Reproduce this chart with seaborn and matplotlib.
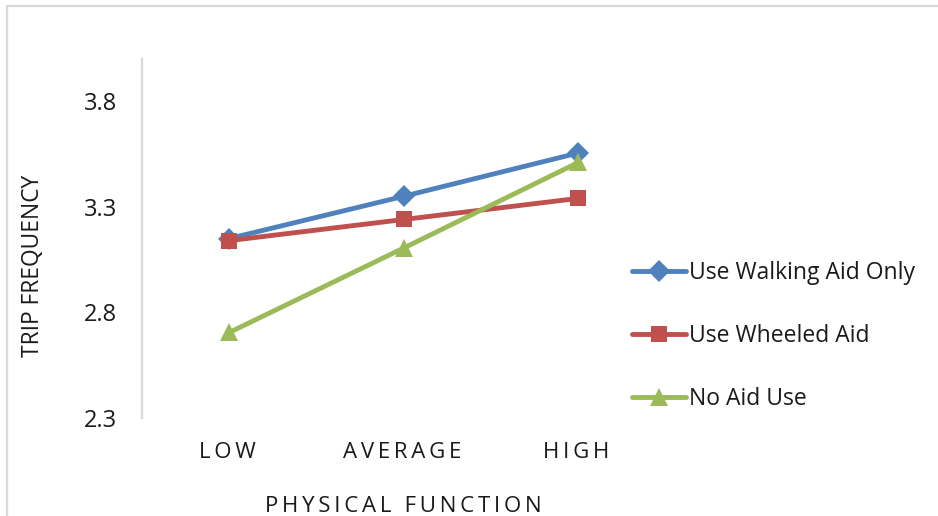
import matplotlib
matplotlib.use("Agg")
import matplotlib.pyplot as plt
from matplotlib.lines import Line2D
import seaborn as sns
import pandas as pd

# Mean trip frequency by physical-function level and mobility-aid group
levels = ["LOW", "AVERAGE", "HIGH"]
walking_aid_only = [3.15, 3.35, 3.555]
wheeled_aid = [3.14, 3.24, 3.34]
no_aid_use = [2.705, 3.105, 3.51]

series_names = ["Use Walking Aid Only", "Use Wheeled Aid", "No Aid Use"]
series_values = [walking_aid_only, wheeled_aid, no_aid_use]
colors = ["#4F81BD", "#C0504D", "#9BBB59"]
markers = ["D", "s", "^"]
marker_sizes = [11.5, 12, 13]

yticks = [2.3, 2.8, 3.3, 3.8]

THIN = "\u2009"


def tracked(text, trailing=False):
    """Spread capital letters apart with thin spaces."""
    words = [THIN.join(word) for word in text.split(" ")]
    out = (THIN + " " + THIN).join(words)
    return out + THIN if trailing else out


rows = []
for name, vals in zip(series_names, series_values):
    for i, v in enumerate(vals):
        rows.append({"level": i, "group": name, "freq": v})
df = pd.DataFrame(rows)

sns.set_theme(style="white")
plt.rcParams["font.family"] = ["Open Sans", "DejaVu Sans"]

fig = plt.figure(figsize=(9.38, 5.16), dpi=100)
ax = fig.add_axes([142 / 938, 1 - 418 / 516, (665.5 - 142) / 938, (418 - 59) / 516])

for name, col, mk, ms in zip(series_names, colors, markers, marker_sizes):
    sub = df[df["group"] == name]
    sns.lineplot(data=sub, x="level", y="freq", ax=ax, color=col, linewidth=3.5,
                 marker=mk, markersize=ms, markeredgewidth=0, label=name,
                 legend=False)

ax.set_xlim(-0.5, 2.5)
ax.set_ylim(2.3, 4.0)
ax.set_xticks(range(len(levels)))
ax.set_xticklabels([tracked(s, trailing=True) for s in levels], fontsize=16,
                   color="#1a1a1a")
ax.set_yticks(yticks)
ax.set_yticklabels([f"{t:.1f}" for t in yticks], fontsize=17, color="#1a1a1a")
ax.tick_params(axis="x", length=0, pad=17)
ax.tick_params(axis="y", length=0, pad=18)

for side in ["top", "right", "bottom"]:
    ax.spines[side].set_visible(False)
ax.spines["left"].set_color("#d9d9d9")
ax.spines["left"].set_linewidth(1.6)
ax.grid(False)

ax.set_ylabel("TRIP FREQUENCY", fontsize=16.4, color="#1a1a1a")
ax.yaxis.set_label_coords(-0.185, 0.425)
ax.set_xlabel(tracked("PHYSICAL FUNCTION"), fontsize=16, color="#1a1a1a",
              labelpad=24)

handles = [Line2D([0], [0], color=c, linewidth=3.5, marker=m, markersize=ms,
                  markeredgewidth=0)
           for c, m, ms in zip(colors, markers, marker_sizes)]
fig.legend(handles, series_names, loc="center left",
           bbox_to_anchor=(611 / 938, 1 - 336 / 516), frameon=False,
           fontsize=16.5, handlelength=2.36, handletextpad=0.15,
           labelspacing=1.72, labelcolor="#1a1a1a")

# Light frame along the top and left of the chart area
fig.add_artist(Line2D([6.5 / 938, 6.5 / 938], [0, 1 - 5.5 / 516],
                      transform=fig.transFigure, color="#d9d9d9", linewidth=1.6))
fig.add_artist(Line2D([6.5 / 938, 1], [1 - 5.5 / 516, 1 - 5.5 / 516],
                      transform=fig.transFigure, color="#d9d9d9", linewidth=1.6))

fig.savefig("out.png", dpi=100, facecolor="white")
